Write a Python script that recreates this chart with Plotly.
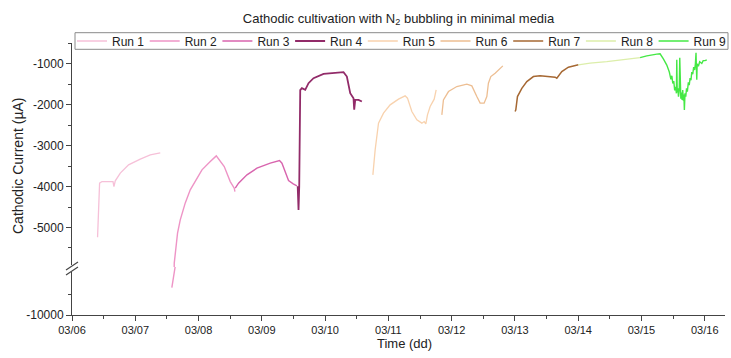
import pandas as pd
import plotly.graph_objects as go

# ---------------- data (time in days after 03/06 00:00, current in µA) ----------------
START = "2020-03-06"
run_names = ["Run 1", "Run 2", "Run 3", "Run 4", "Run 5", "Run 6", "Run 7", "Run 8", "Run 9"]
run_colors = ["#F6C0D8", "#EE94C6", "#D865AE", "#922B69", "#F8D2AE",
              "#EDBE92", "#A66833", "#DCEEAA", "#45E845"]

run1_t = [0.404, 0.436, 0.474, 0.648, 0.663, 0.684, 0.763, 0.894, 1.079, 1.237, 1.395]
run1_v = [-5240, -3917, -3878, -3878, -4000, -3861, -3672, -3469, -3330, -3225, -3176]

run2_t = [1.578, 1.598, 1.616, 1.648, 1.668, 1.711, 1.790, 1.869, 2.054, 2.185, 2.280,
          2.406, 2.501, 2.564, 2.575]
run2_v = [-9330, -8700, -5873, -5467, -5140, -4814, -4400, -4081, -3592, -3389, -3250,
          -3511, -3878, -4040, -4122]

run3_t = [2.580, 2.632, 2.765, 2.923, 3.133, 3.280, 3.318, 3.397, 3.422, 3.496, 3.555]
run3_v = [-4040, -3917, -3714, -3550, -3428, -3364, -3428, -3755, -3853, -3934, -3983]

run4_t = [3.567, 3.575, 3.580, 3.591, 3.607, 3.633, 3.686, 3.738, 3.817, 3.975, 4.133,
          4.291, 4.344, 4.397, 4.449, 4.460, 4.476, 4.528, 4.581]
run4_v = [-3990, -4300, -4570, -4000, -1640, -1594, -1636, -1472, -1350, -1245, -1228,
          -1204, -1310, -1717, -1839, -2120, -1880, -1880, -1921]

run5_t = [4.755, 4.791, 4.844, 4.923, 5.028, 5.160, 5.265, 5.302, 5.371, 5.450, 5.529,
          5.566, 5.592, 5.618, 5.660, 5.724, 5.755]
run5_v = [-3714, -3103, -2450, -2205, -2002, -1863, -1782, -1839, -2166, -2369, -2450,
          -2410, -2467, -2247, -2044, -1863, -1636]

run6_t = [5.845, 5.870, 5.950, 6.082, 6.240, 6.319, 6.398, 6.450, 6.513, 6.556, 6.581,
          6.619, 6.687, 6.740, 6.809]
run6_v = [-2247, -1880, -1677, -1555, -1497, -1538, -1799, -1961, -1961, -1799, -1472,
          -1310, -1228, -1147, -1049]

run7_t = [7.003, 7.014, 7.040, 7.109, 7.188, 7.292, 7.398, 7.556, 7.635, 7.662, 7.687,
          7.741, 7.845, 8.003]
run7_v = [-2166, -2125, -1799, -1600, -1432, -1310, -1293, -1310, -1326, -1350, -1293,
          -1188, -1081, -1024]

run8_t = [8.003, 8.188, 8.452, 8.714, 8.978]
run8_v = [-1024, -983, -944, -902, -846]

run9_t = [8.978, 9.084, 9.242, 9.294, 9.346, 9.400, 9.440, 9.465, 9.480, 9.495, 9.510,
          9.525, 9.540, 9.552, 9.558, 9.565, 9.575, 9.585, 9.597, 9.605, 9.612, 9.622,
          9.632, 9.642, 9.652, 9.662, 9.670, 9.678, 9.688, 9.700, 9.712, 9.725, 9.741,
          9.755, 9.768, 9.782, 9.795, 9.810, 9.825, 9.840, 9.852, 9.862, 9.868, 9.874,
          9.880, 9.899, 9.920, 9.953, 9.975, 10.005, 10.032]
run9_v = [-846, -804, -763, -755, -880, -1030, -1200, -1380, -1290, -1480, -1420,
          -1650, -1560, -1720, -900, -1700, -1600, -1800, -1650, -850, -1750, -1850,
          -1700, -1880, -1640, -1900, -1750, -2130, -1720, -1800, -1600, -1680, -1450,
          -1520, -1350, -1400, -1200, -1250, -1080, -1150, -1000, -730, -1100, -1390,
          -1000, -1060, -950, -990, -920, -920, -900]

runs_t = [run1_t, run2_t, run3_t, run4_t, run5_t, run6_t, run7_t, run8_t, run9_t]
runs_v = [run1_v, run2_v, run3_v, run4_v, run5_v, run6_v, run7_v, run8_v, run9_v]
run_widths = [1.3, 1.4, 1.4, 1.8, 1.3, 1.3, 1.5, 1.3, 1.4]

upper_ticks = [-5000, -4000, -3000, -2000, -1000]
upper_minor = [-5500, -4500, -3500, -2500, -1500, -500]
lower_ticks = [-10000]
lower_minor = [-9500]

# ---------------- geometry ----------------
W, H = 731, 358
ML, MR, MT, MB = 72, 6, 43, 43
PW, PH = W - ML - MR, H - MT - MB
PX_PER_K = 40.9          # pixels per 1000 µA
BREAK_PX = 267           # break position (px from top of page)
lower_px = (H - MB) - BREAK_PX
upper_px = BREAK_PX - MT
lower_frac = lower_px / PH
Y_TOP = -490
upper_range = [Y_TOP - upper_px / PX_PER_K * 1000, Y_TOP]
lower_range = [-10000, -10000 + lower_px / PX_PER_K * 1000]


def to_dt(days):
    return pd.Timestamp(START) + pd.to_timedelta(pd.Series(days), unit="D")


def px2paper(x, y):
    return (x - ML) / PW, ((H - MB) - y) / PH


fig = go.Figure()
for name, t, v, c, w in zip(run_names, runs_t, runs_v, run_colors, run_widths):
    xs = to_dt(t)
    fig.add_trace(go.Scatter(x=xs, y=v, mode="lines", name=name,
                             line=dict(color=c, width=w), xaxis="x2", yaxis="y2",
                             showlegend=True))
    fig.add_trace(go.Scatter(x=xs, y=v, mode="lines", name=name,
                             line=dict(color=c, width=w), xaxis="x", yaxis="y",
                             showlegend=False))

axcol = "#444444"
txtcol = "#222222"
font_family = "Liberation Sans, Arial, sans-serif"

fig.update_layout(
    width=W, height=H,
    margin=dict(l=ML, r=MR, t=MT, b=MB, autoexpand=False),
    paper_bgcolor="white", plot_bgcolor="white",
    font=dict(family=font_family, color=txtcol, size=12),
    title=dict(text="Cathodic cultivation with N<sub>2</sub> bubbling in minimal media",
               x=(ML + PW / 2) / W, xanchor="center", y=1 - 18 / H, yanchor="middle",
               font=dict(size=13, color=txtcol)),
    xaxis=dict(domain=[0, 1], anchor="y", type="date",
               range=[to_dt([0])[0], to_dt([10.32])[0]],
               tickformat="%m/%d", tick0=START, dtick=86400000,
               ticks="outside", ticklen=5, tickcolor=axcol, tickwidth=1,
               minor=dict(dtick=43200000, ticks="outside", ticklen=3, tickcolor=axcol),
               showline=True, linecolor=axcol, linewidth=1,
               showgrid=False, zeroline=False, tickfont=dict(size=11, color=txtcol)),
    xaxis2=dict(domain=[0, 1], anchor="y2", matches="x", type="date", visible=False),
    yaxis=dict(domain=[0, lower_frac], anchor="x", range=lower_range,
               tickmode="array", tickvals=lower_ticks, ticktext=[str(t) for t in lower_ticks],
               ticks="outside", ticklen=5, tickcolor=axcol,
               minor=dict(tickvals=lower_minor, ticks="outside", ticklen=3, tickcolor=axcol),
               showline=True, linecolor=axcol, linewidth=1,
               showgrid=False, zeroline=False, tickfont=dict(size=12, color=txtcol)),
    yaxis2=dict(domain=[lower_frac, 1], anchor="x2", range=upper_range,
                tickmode="array", tickvals=upper_ticks, ticktext=[str(t) for t in upper_ticks],
                ticks="outside", ticklen=5, tickcolor=axcol,
                minor=dict(tickvals=upper_minor, ticks="outside", ticklen=3, tickcolor=axcol),
                showline=True, linecolor=axcol, linewidth=1,
                showgrid=False, zeroline=False, tickfont=dict(size=12, color=txtcol)),
    legend=dict(orientation="h", xref="container", yref="container",
                x=72 / W, xanchor="left", y=1 - 41 / H, yanchor="middle",
                borderwidth=0, bgcolor="rgba(0,0,0,0)",
                font=dict(size=12, color=txtcol), entrywidth=27.7, entrywidthmode="pixels",
                tracegroupgap=0, itemwidth=30),
    showlegend=True,
)

# legend frame (opaque box behind the legend entries)
lx0, ly0 = px2paper(75, 49.3)
lx1, ly1 = px2paper(728, 32.7)
fig.add_shape(type="rect", xref="paper", yref="paper", x0=lx0, x1=lx1, y0=ly0, y1=ly1,
              fillcolor="white", line=dict(color="#8a8a8a", width=1), layer="above")

# axis titles
ax, ay = px2paper(18, 166)
bx, by = px2paper(404, 343)
fig.add_annotation(text="Cathodic Current (µA)", x=ax, y=ay, xref="paper", yref="paper",
                   textangle=-90, showarrow=False, xanchor="center", yanchor="middle",
                   font=dict(size=14, color=txtcol))
fig.add_annotation(text="Time (dd)", x=bx, y=by, xref="paper", yref="paper",
                   showarrow=False, xanchor="center", yanchor="middle",
                   font=dict(size=13, color=txtcol))

# axis-break marks
gx0, gy0 = px2paper(70, 272)
gx1, gy1 = px2paper(74, 265)
fig.add_shape(type="rect", xref="paper", yref="paper", x0=gx0, x1=gx1, y0=gy0, y1=gy1,
              fillcolor="white", line=dict(width=0), layer="above")
for off in (0, 5):
    x0, y0 = px2paper(66, 270 + off)
    x1, y1 = px2paper(78, 262 + off)
    fig.add_shape(type="line", xref="paper", yref="paper", x0=x0, y0=y0, x1=x1, y1=y1,
                  line=dict(color=axcol, width=1.2), layer="above")

fig.write_html("out.html")
